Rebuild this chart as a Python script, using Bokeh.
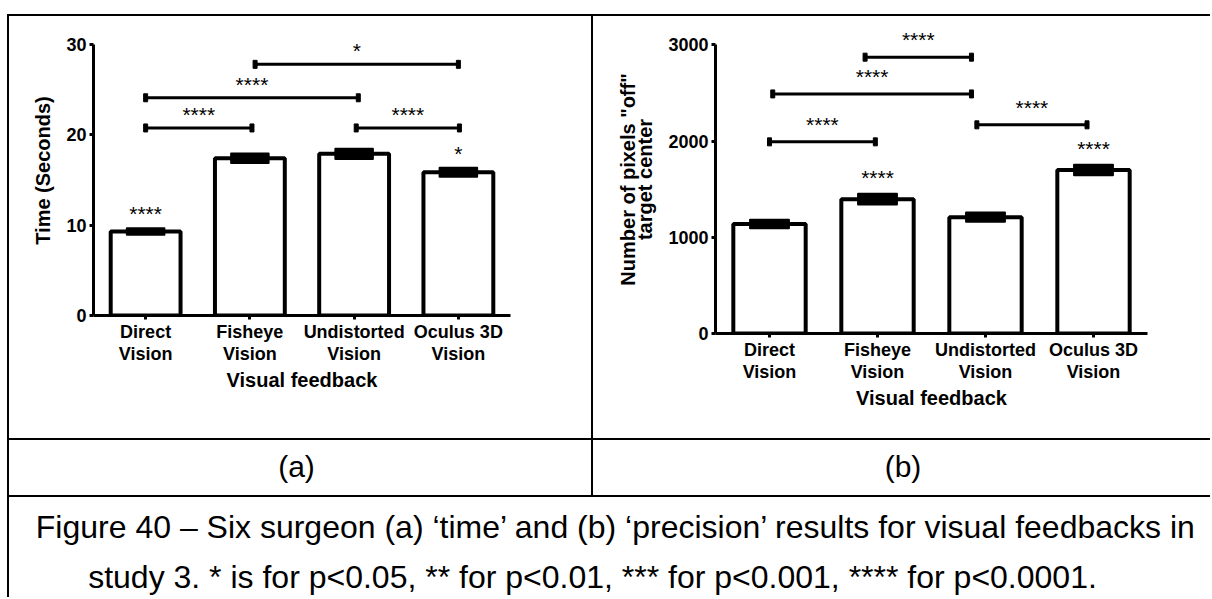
from bokeh.plotting import figure
from bokeh.models import FactorRange, Range1d, FixedTicker, ColumnDataSource, LabelSet, Label, Spacer
from bokeh.layouts import column, row
from bokeh.core.properties import value
from bokeh.embed import file_html
from bokeh.resources import INLINE

# ---------------- data ----------------
categories = ["Direct Vision", "Fisheye Vision", "Undistorted Vision", "Oculus 3D Vision"]

time_mean = [9.3, 17.4, 17.9, 15.85]
time_sem = [0.37, 0.52, 0.57, 0.5]
time_bar_stars = ["****", "", "", "*"]
time_pairs = [(0, 1), (0, 2), (1, 3), (2, 3)]
time_levels = [20.76, 24.1, 27.8, 20.76]
time_labels = ["****", "****", "*", "****"]
time_ticks = [0, 10, 20, 30]

pix_mean = [1138, 1396, 1208, 1698]
pix_sem = [45, 55, 48, 55]
pix_bar_stars = ["", "****", "", "****"]
pix_pairs = [(0, 1), (0, 2), (1, 2), (2, 3)]
pix_levels = [1991, 2489, 2871, 2168]
pix_labels = ["****", "****", "****", "****"]
pix_ticks = [0, 1000, 2000, 3000]

caption_1 = "Figure 40 \u2013 Six surgeon (a) \u2018time\u2019 and (b) \u2018precision\u2019 results for visual feedbacks in"
caption_2 = "study 3. * is for p<0.05, ** for p<0.01, *** for p<0.001, **** for p<0.0001."

# ---------------- style ----------------
FONT = "Liberation Sans"
STAR_FONT_PX = 21
BASELINE_FIX = 5
# small horizontal nudges (category units) of bracket ends, to follow the original drawing
time_nudge = [(0.0, 0.02), (0.0, 0.04), (0.05, 0.0), (0.02, 0.01)]
pix_nudge = [(0.0, -0.02), (0.03, -0.13), (-0.115, -0.13), (-0.08, -0.06)]


def tick_label(c):
    a, b = c.rsplit(" ", 1)
    return a + "\n" + b


factors = [tick_label(c) for c in categories]


def make_panel(width, height, mb_left, mb_right, yend, ymax, yticks, ytitle,
               means, sems, bar_stars, pairs, levels, labels, nudge,
               gap_bracket, gap_bar, title_standoff, title_lh):
    p = figure(width=width, height=height,
               x_range=FactorRange(*factors, range_padding=0),
               y_range=Range1d(0, yend),
               min_border_left=mb_left, min_border_right=mb_right,
               min_border_top=9, min_border_bottom=105,
               toolbar_location=None, output_backend="svg")
    p.xgrid.visible = False
    p.ygrid.visible = False
    p.outline_line_color = None
    p.background_fill_color = "white"
    p.border_fill_color = "white"
    p.yaxis.ticker = FixedTicker(ticks=yticks)
    p.yaxis.bounds = (0, ymax)
    for ax in (p.xaxis[0], p.yaxis[0]):
        ax.axis_line_width = 3
        ax.axis_line_color = "black"
        ax.major_tick_line_width = 3
        ax.major_tick_line_color = "black"
        ax.major_tick_out = 4
        ax.major_tick_in = 0
        ax.minor_tick_line_color = None
        ax.major_label_text_font = FONT
        ax.major_label_text_font_style = "bold"
        ax.major_label_text_font_size = "18px"
        ax.major_label_text_color = "black"
        ax.major_label_text_line_height = 1.1
        ax.axis_label_text_font = FONT
        ax.axis_label_text_font_style = "bold"
        ax.axis_label_text_font_size = "20px"
        ax.axis_label_text_color = "black"
    p.xaxis.major_label_standoff = 2
    p.yaxis.major_label_standoff = 3
    p.xaxis.axis_label = "Visual feedback"
    p.xaxis.axis_label_standoff = 2
    p.yaxis.axis_label = ytitle
    p.yaxis.axis_label_standoff = title_standoff
    p.yaxis.axis_label_text_line_height = title_lh

    # bars
    p.vbar(x=factors, top=means, width=0.67, bottom=0,
           fill_color="white", line_color="black", line_width=4)
    # error blocks (mean +/- SEM)
    lo = [m - s for m, s in zip(means, sems)]
    hi = [m + s for m, s in zip(means, sems)]
    p.vbar(x=factors, bottom=lo, top=hi, width=0.36,
           fill_color="black", line_color="black", line_width=2, line_join="round")
    # stars above bars
    star_src = ColumnDataSource(dict(x=factors, y=hi, t=bar_stars))
    p.add_layout(LabelSet(x="x", y="y", text="t", source=star_src,
                          text_font=value(FONT), text_font_size=f"{STAR_FONT_PX}px",
                          text_align="center", text_baseline="alphabetic",
                          y_offset=gap_bar - 0.585 * STAR_FONT_PX + BASELINE_FIX,
                          text_color="black"))
    # significance brackets
    x0 = [pairs[i][0] + 0.5 + nudge[i][0] for i in range(len(pairs))]
    x1 = [pairs[i][1] + 0.5 + nudge[i][1] for i in range(len(pairs))]
    p.segment(x0=x0, y0=levels, x1=x1, y1=levels, line_color="black", line_width=3)
    p.rect(x=x0 + x1, y=levels + levels, width=4, height=8,
           width_units="screen", height_units="screen",
           fill_color="black", line_color="black")
    mid = [(a + b) / 2 for a, b in zip(x0, x1)]
    br_src = ColumnDataSource(dict(x=mid, y=levels, t=labels))
    p.add_layout(LabelSet(x="x", y="y", text="t", source=br_src,
                          text_font=value(FONT), text_font_size=f"{STAR_FONT_PX}px",
                          text_align="center", text_baseline="alphabetic",
                          y_offset=gap_bracket - 0.585 * STAR_FONT_PX + BASELINE_FIX,
                          text_color="black"))
    return p


# (a): frame 25..315 on the page; y axis line drawn only up to 30
pa = make_panel(582, 404, 84, 81, 32.1, 30, time_ticks, "Time (Seconds)",
                time_mean, time_sem, time_bar_stars, time_pairs, time_levels, time_labels,
                time_nudge, 13.5, 14.5, 9, 1.2)
# (b): frame 25..333 on the page; y axis line drawn only up to 3000
pb = make_panel(617, 422, 122, 63, 3200, 3000, pix_ticks, 'Number of pixels "off"\ntarget center',
                pix_mean, pix_sem, pix_bar_stars, pix_pairs, pix_levels, pix_labels,
                pix_nudge, 17, 16.5, 9, 0.78)


def text_cell(w, h, xs, ys, texts, size):
    f = figure(width=w, height=h, x_range=Range1d(0, w), y_range=Range1d(h, 0),
               min_border=0, min_border_left=0, min_border_right=0,
               min_border_top=0, min_border_bottom=0,
               x_axis_type=None, y_axis_type=None,
               toolbar_location=None, output_backend="svg")
    f.xgrid.visible = False
    f.ygrid.visible = False
    f.outline_line_color = None
    for x, y, t in zip(xs, ys, texts):
        f.add_layout(Label(x=x, y=y, text=t, text_font=FONT, text_font_size=size,
                           text_align="center", text_baseline="alphabetic",
                           text_color="black"))
    return f


W = 1203  # width right of the left page gap
cell_a = text_cell(582, 55, [287], [26], ["(a)"], "30px")
cell_b = text_cell(617, 55, [309.5], [26], ["(b)"], "30px")
cap = text_cell(W - 2, 100, [607, 583], [29, 79], [caption_1, caption_2], "32px")


def hline(h=2):
    return Spacer(width=W, height=h, background="black")


def vline(h):
    return Spacer(width=2, height=h, background="black")


table = column(
    Spacer(width=W, height=14),
    hline(),
    row(vline(422), column(pa, Spacer(width=582, height=18)), vline(422), pb),
    hline(),
    row(vline(55), cell_a, vline(55), cell_b),
    hline(),
    row(vline(100), cap),
)
layout = row(Spacer(width=7, height=597), table)

open("out.html", "w").write(file_html(layout, INLINE))
